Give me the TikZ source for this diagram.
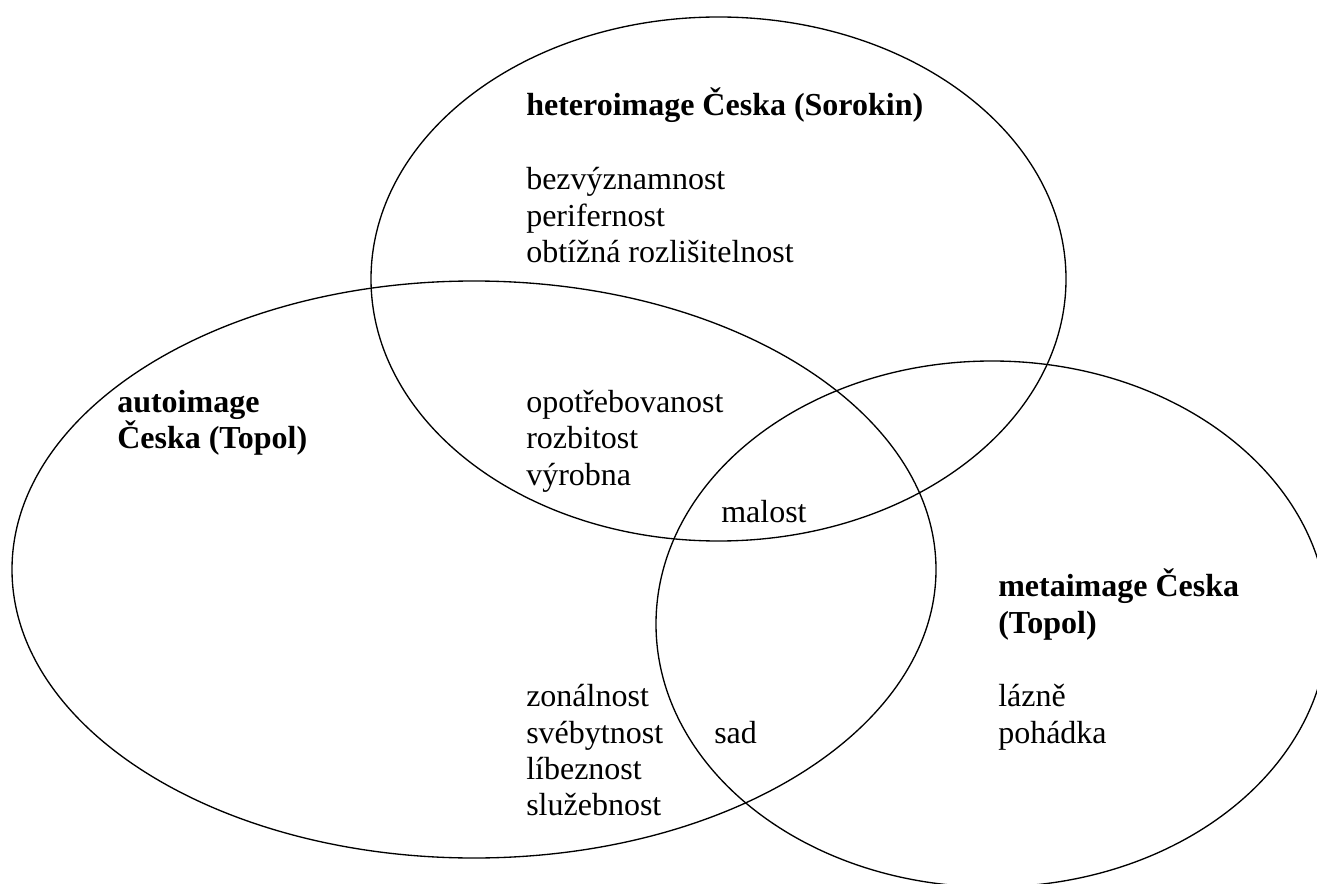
\documentclass[tikz,border=0pt]{standalone}
\usepackage{fontspec}
\setmainfont{Liberation Serif}
\begin{document}
\begin{tikzpicture}[x=0.75pt,y=-0.75pt,
  set/.style={line width=1pt,draw=black},
  lbl/.style={anchor=base west,inner sep=0pt,font=\fontsize{24}{27.6}\selectfont},
  head/.style={lbl,font=\fontsize{24}{27.6}\selectfont\bfseries}]
\useasboundingbox (0,0) rectangle (1317,884);
\begin{scope}
  \clip (0,0) rectangle (1317,884);
  % the three image sets
  \draw[set] (718.5,279) ellipse [x radius=347.5, y radius=262];
  \draw[set] (474,569.5) ellipse [x radius=462, y radius=288.5];
  \draw[set] (992,624) ellipse [x radius=336, y radius=263];
\end{scope}
% heteroimage
\node[head] (hetero) at (526,116) {heteroimage Česka (Sorokin)};
\node[lbl] (h1) at (526,190) {bezvýznamnost};
\node[lbl] (h2) at (526,227) {perifernost};
\node[lbl] (h3) at (526,263) {obtížná rozlišitelnost};
% autoimage
\node[head] (auto1) at (117,412) {autoimage};
\node[head] (auto2) at (117,448) {Česka (Topol)};
% auto and hetero
\node[lbl] (ah1) at (526,412) {opotřebovanost};
\node[lbl] (ah2) at (526,448) {rozbitost};
\node[lbl] (ah3) at (526,485) {výrobna};
% all three
\node[lbl] (all) at (721,522) {malost};
% metaimage
\node[head] (meta1) at (998,596) {metaimage Česka};
\node[head] (meta2) at (998,633) {(Topol)};
\node[lbl] (m1) at (998,706) {lázně};
\node[lbl] (m2) at (998,743) {pohádka};
% autoimage only
\node[lbl] (a1) at (526,706) {zonálnost};
\node[lbl] (a2) at (526,743) {svébytnost};
\node[lbl] (a3) at (526,779) {líbeznost};
\node[lbl] (a4) at (526,815) {služebnost};
% auto and meta
\node[lbl] (am) at (714,743) {sad};
\end{tikzpicture}
\end{document}
